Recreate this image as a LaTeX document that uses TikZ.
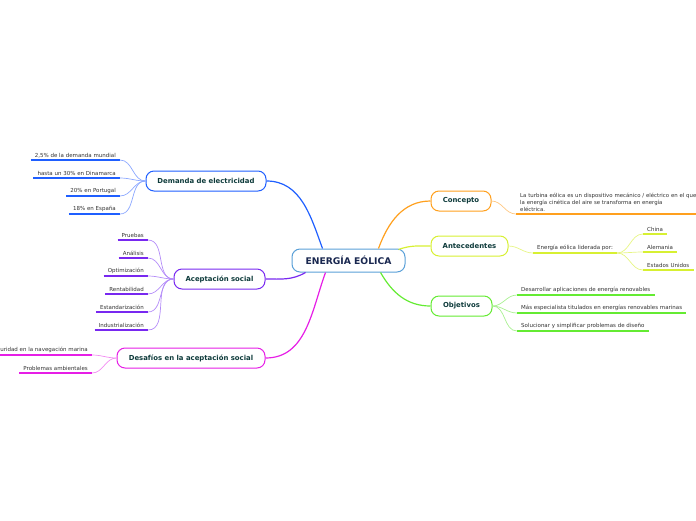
\documentclass[tikz,border=0pt]{standalone}
\usepackage{fontspec}
\setmainfont{DejaVu Sans}
\usetikzlibrary{calc}
\definecolor{cblue}{RGB}{31,95,255}
\definecolor{lblue}{RGB}{140,168,255}
\definecolor{cpurp}{RGB}{120,40,240}
\definecolor{lpurp}{RGB}{180,140,248}
\definecolor{cmag}{RGB}{230,30,230}
\definecolor{lmag}{RGB}{242,140,242}
\definecolor{corg}{RGB}{255,160,30}
\definecolor{lorg}{RGB}{255,200,130}
\definecolor{cyel}{RGB}{215,240,50}
\definecolor{lyel}{RGB}{230,245,130}
\definecolor{cgrn}{RGB}{100,235,50}
\definecolor{lgrn}{RGB}{168,240,144}
\definecolor{ntext}{RGB}{14,59,59}
\definecolor{ctext}{RGB}{26,40,80}
\definecolor{cbord}{RGB}{90,160,216}
\definecolor{ltext}{RGB}{50,50,50}
\tikzset{
  mainbox/.style={draw, line width=1pt, rounded corners=8pt, fill=white, text=ntext,
    font=\fontsize{6.9}{8}\selectfont\bfseries, minimum height=20pt, inner sep=0pt},
  leafL/.style={anchor=south east, text=ltext, font=\fontsize{5.5}{6.6}\selectfont, inner xsep=4pt, inner ysep=1.8pt},
  leafR/.style={anchor=south west, text=ltext, font=\fontsize{5.5}{6.6}\selectfont, inner xsep=4pt, inner ysep=1.8pt},
  uline/.style={line width=1.5pt},
  mainconn/.style={line width=1.2pt},
  leafconn/.style={line width=0.7pt},
}
\begin{document}
\begin{tikzpicture}[x=1pt,y=-1pt]
\useasboundingbox (0,0) rectangle (696,520);
\clip (0,0) rectangle (696,520);
% central
\node[draw=cbord, line width=1pt, rounded corners=8pt, fill=white, text=ctext,
  font=\fontsize{9.2}{10}\selectfont\bfseries, minimum width=113pt, minimum height=23pt, inner sep=0pt]
  (cen) at (348.5,260.5) {ENERGÍA EÓLICA};
% main nodes
\node[mainbox, draw=cblue, minimum width=120pt] (dem) at (206,181) {Demanda de electricidad};
\node[mainbox, draw=cpurp, minimum width=91pt] (ace) at (219.5,279) {Aceptación social};
\node[mainbox, draw=cmag, minimum width=148pt] (des) at (191,358) {Desafíos en la aceptación social};
\node[mainbox, draw=corg, minimum width=60pt] (con) at (461,201) {Concepto};
\node[mainbox, draw=cyel, minimum width=77pt] (ant) at (469.5,246) {Antecedentes};
\node[mainbox, draw=cgrn, minimum width=61pt] (obj) at (461.5,306) {Objetivos};
% main connectors
\draw[mainconn, cblue] ($(cen.north)+(-26,0)$) to[out=110,in=0] (dem.east);
\draw[mainconn, cpurp] ($(cen.south)+(-43,0)$) to[out=210,in=0] (ace.east);
\draw[mainconn, cmag] ($(cen.south)+(-23,0)$) to[out=-110,in=0] (des.east);
\draw[mainconn, corg] ($(cen.north)+(30,0)$) to[out=70,in=180] (con.west);
\draw[mainconn, cyel] ($(cen.north)+(50,1)$) to[out=20,in=180] (ant.west);
\draw[mainconn, cgrn] ($(cen.south)+(32,0)$) to[out=-60,in=180] (obj.west);
% Demanda leaves
\node[leafL] (d1) at (120,160) {2,5\% de la demanda mundial};
\node[leafL] (d2) at (120,178) {hasta un 30\% en Dinamarca};
\node[leafL] (d3) at (120,196) {20\% en Portugal};
\node[leafL] (d4) at (120,214) {18\% en España};
\foreach \n in {d1,d2,d3,d4}{
  \draw[uline, cblue] (\n.south west) -- (\n.south east);
  \draw[leafconn, lblue] (dem.west) to[out=180,in=0] (\n.south east);
}
% Aceptacion leaves
\node[leafL] (a1) at (148,240) {Pruebas};
\node[leafL] (a2) at (148,258) {Análisis};
\node[leafL] (a3) at (148,276) {Optimización};
\node[leafL] (a4) at (148,294) {Rentabilidad};
\node[leafL] (a5) at (148,312) {Estandarización};
\node[leafL] (a6) at (148,330) {Industrialización};
\foreach \n in {a1,a2,a3,a4,a5,a6}{
  \draw[uline, cpurp] (\n.south west) -- (\n.south east);
  \draw[leafconn, lpurp] (ace.west) to[out=180,in=0] (\n.south east);
}
% Desafios leaves
\node[leafL] (s1) at (92,355) {Seguridad en la navegación marina};
\node[leafL] (s2) at (92,373) {Problemas ambientales};
\foreach \n in {s1,s2}{
  \draw[uline, cmag] (\n.south west) -- (\n.south east);
  \draw[leafconn, lmag] (des.west) to[out=180,in=0] (\n.south east);
}
% Concepto leaf
\node[leafR, text width=184pt, align=left, font=\fontsize{5.4}{7}\selectfont] (c1) at (516,214)
  {La turbina eólica es un dispositivo mecánico / eléctrico en el que\\ la energía cinética del aire se transforma en energía\\ eléctrica.};
\draw[uline, corg] (c1.south west) -- (c1.south east);
\draw[leafconn, lorg] (con.east) to[out=0,in=180] (c1.south west);
% Antecedentes leaves
\node[leafR] (t1) at (533,253) {Energía eólica liderada por:};
\draw[uline, cyel] (t1.south west) -- (t1.south east);
\draw[leafconn, lyel] (ant.east) to[out=0,in=180] (t1.south west);
\node[leafR] (t2) at (643,234) {China};
\node[leafR] (t3) at (643,252) {Alemania};
\node[leafR] (t4) at (643,270) {Estados Unidos};
\foreach \n in {t2,t3,t4}{
  \draw[uline, cyel] (\n.south west) -- (\n.south east);
  \draw[leafconn, lyel] (t1.south east) to[out=0,in=180] (\n.south west);
}
% Objetivos leaves
\node[leafR] (o1) at (517,295) {Desarrollar aplicaciones de energía renovables};
\node[leafR] (o2) at (517,313) {Más especialista titulados en energías renovables marinas};
\node[leafR] (o3) at (517,331) {Solucionar y simplificar problemas de diseño};
\foreach \n in {o1,o2,o3}{
  \draw[uline, cgrn] (\n.south west) -- (\n.south east);
  \draw[leafconn, lgrn] (obj.east) to[out=0,in=180] (\n.south west);
}
\end{tikzpicture}
\end{document}
